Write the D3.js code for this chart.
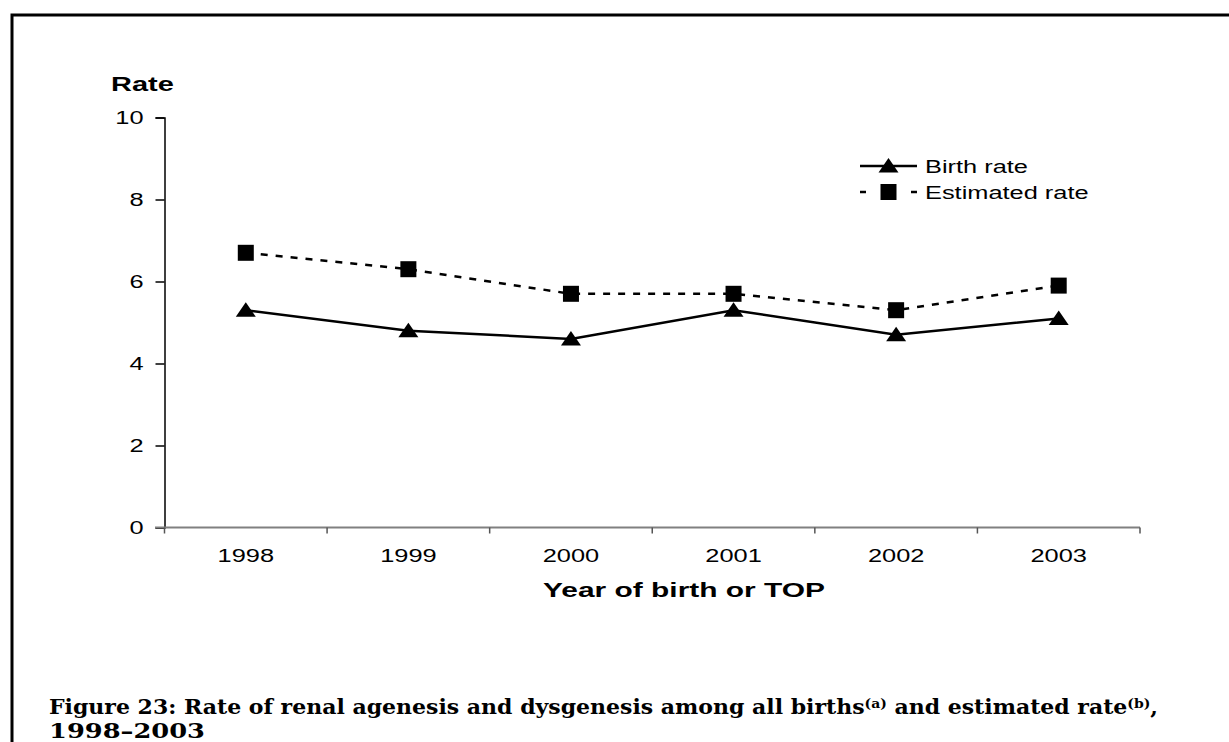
<!DOCTYPE html>
<html>
<head>
<meta charset="utf-8">
<script src="https://cdn.jsdelivr.net/npm/d3@7"></script>
<style>
  body { margin: 0; background: #fff; }
  svg { display: block; }
</style>
</head>
<body>
<div id="chart"></div>
<script>
// data
var years = ["1998", "1999", "2000", "2001", "2002", "2003"];
var birthRate = [5.3, 4.8, 4.6, 5.3, 4.7, 5.1];
var estimatedRate = [6.7, 6.3, 5.7, 5.7, 5.3, 5.9];
var yTicks = [0, 2, 4, 6, 8, 10];
var seriesNames = ["Birth rate", "Estimated rate"];

var W = 1229, H = 742;
var stretch = 1.45;   // the original chart text is wider than normal Arial

var svg = d3.select("#chart").append("svg")
  .attr("width", W)
  .attr("height", H);

// frame round the figure (left and top only are visible)
svg.append("path")
  .attr("d", "M12,742 L12,15 L1229,15")
  .attr("fill", "none")
  .attr("stroke", "#000")
  .attr("stroke-width", 3);

var plotLeft = 164.5, plotRight = 1140, plotTop = 117.5, plotBottom = 527.5;

var x = d3.scaleBand()
  .domain(years)
  .range([plotLeft, plotRight])
  .padding(0);

var y = d3.scaleLinear()
  .domain([0, 10])
  .range([plotBottom, plotTop]);

// widen a text node by the stretch factor
function widen(sel) {
  sel.each(function() {
    var len = this.getComputedTextLength();
    d3.select(this)
      .attr("textLength", len * stretch)
      .attr("lengthAdjust", "spacingAndGlyphs");
  });
}

// Y axis
var yAxis = svg.append("g")
  .attr("transform", "translate(" + plotLeft + ",0)")
  .call(d3.axisLeft(y).tickValues(yTicks).tickSize(9).tickPadding(12).tickFormat(d3.format("d")));
yAxis.select(".domain").attr("stroke", "#000").attr("stroke-width", 1.5);
yAxis.selectAll(".tick line").attr("stroke", "#000").attr("stroke-width", 1.5);
yAxis.selectAll("text")
  .attr("font-family", "Liberation Sans, Arial, sans-serif")
  .attr("font-size", 17.5)
  .attr("fill", "#000")
  .call(widen);

// X axis: gray line, ticks on band edges, labels at centres
var xAxis = svg.append("g")
  .attr("transform", "translate(0," + plotBottom + ")")
  .call(d3.axisBottom(x).tickSize(0).tickPadding(22));
xAxis.select(".domain").remove();
xAxis.selectAll("text")
  .attr("font-family", "Liberation Sans, Arial, sans-serif")
  .attr("font-size", 17.5)
  .attr("fill", "#000")
  .call(widen);

var edges = years.map(function(d) { return x(d); }).concat([plotRight]);
xAxis.append("line")
  .attr("x1", plotLeft - 9.5)
  .attr("x2", plotRight)
  .attr("y1", 0).attr("y2", 0)
  .attr("stroke", "#808080")
  .attr("stroke-width", 2);
xAxis.selectAll(".edge")
  .data(edges)
  .enter().append("line")
  .attr("class", "edge")
  .attr("x1", function(d) { return d; })
  .attr("x2", function(d) { return d; })
  .attr("y1", 0).attr("y2", 6)
  .attr("stroke", "#555")
  .attr("stroke-width", 1.5);

// axis titles
svg.append("text")
  .attr("x", 111)
  .attr("y", 91)
  .attr("font-family", "Liberation Sans, Arial, sans-serif")
  .attr("font-weight", "bold")
  .attr("font-size", 20)
  .text("Rate")
  .call(widen);

svg.append("text")
  .attr("x", 684)
  .attr("y", 597)
  .attr("text-anchor", "middle")
  .attr("font-family", "Liberation Sans, Arial, sans-serif")
  .attr("font-weight", "bold")
  .attr("font-size", 20)
  .attr("textLength", 282)
  .attr("lengthAdjust", "spacingAndGlyphs")
  .text("Year of birth or TOP");

var cx = function(d, i) { return x(years[i]) + x.bandwidth() / 2; };

function trianglePath(px, py) {
  return "M" + px + "," + (py - 8) + " L" + (px + 10) + "," + (py + 6.5) + " L" + (px - 10) + "," + (py + 6.5) + " Z";
}

// estimated rate: dashed line with squares
svg.append("path")
  .datum(estimatedRate)
  .attr("fill", "none")
  .attr("stroke", "#000")
  .attr("stroke-width", 2.5)
  .attr("stroke-dasharray", "7,8")
  .attr("d", d3.line().x(cx).y(function(d) { return y(d); }));

svg.selectAll(".sq")
  .data(estimatedRate)
  .enter().append("rect")
  .attr("class", "sq")
  .attr("x", function(d, i) { return cx(d, i) - 8; })
  .attr("y", function(d) { return y(d) - 8; })
  .attr("width", 16)
  .attr("height", 16)
  .attr("fill", "#000");

// birth rate: solid line with triangles
svg.append("path")
  .datum(birthRate)
  .attr("fill", "none")
  .attr("stroke", "#000")
  .attr("stroke-width", 2.5)
  .attr("d", d3.line().x(cx).y(function(d) { return y(d); }));

svg.selectAll(".tri")
  .data(birthRate)
  .enter().append("path")
  .attr("class", "tri")
  .attr("d", function(d, i) { return trianglePath(cx(d, i), y(d)); })
  .attr("fill", "#000");

// legend
var lg = svg.append("g").attr("transform", "translate(860,166)");
lg.append("line")
  .attr("x1", 0).attr("x2", 57).attr("y1", 0).attr("y2", 0)
  .attr("stroke", "#000").attr("stroke-width", 2.5);
lg.append("path").attr("d", trianglePath(28.5, 0)).attr("fill", "#000");
lg.append("line")
  .attr("x1", 0).attr("x2", 57).attr("y1", 26).attr("y2", 26)
  .attr("stroke", "#000").attr("stroke-width", 2.5)
  .attr("stroke-dasharray", "6,15,15,15");
lg.append("rect")
  .attr("x", 20.5).attr("y", 18).attr("width", 16).attr("height", 16)
  .attr("fill", "#000");
lg.selectAll(".lt")
  .data(seriesNames)
  .enter().append("text")
  .attr("class", "lt")
  .attr("x", 65)
  .attr("y", function(d, i) { return 6.5 + i * 26.5; })
  .attr("font-family", "Liberation Sans, Arial, sans-serif")
  .attr("font-size", 17.5)
  .text(function(d) { return d; })
  .call(widen);

// caption
var capFont = "'Palatino Linotype', 'Book Antiqua', Palatino, 'DejaVu Serif', serif";
var cap = svg.append("text")
  .attr("x", 49)
  .attr("y", 714)
  .attr("font-family", capFont)
  .attr("font-weight", "bold")
  .attr("font-size", 20.5)
  .attr("textLength", 1109)
  .attr("lengthAdjust", "spacingAndGlyphs");
cap.append("tspan").text("Figure 23: Rate of renal agenesis and dysgenesis among all births");
cap.append("tspan").attr("font-size", 13).attr("dy", -6).text("(a)");
cap.append("tspan").attr("dy", 6).text(" and estimated rate");
cap.append("tspan").attr("font-size", 13).attr("dy", -6).text("(b)");
cap.append("tspan").attr("dy", 6).text(",");

svg.append("text")
  .attr("x", 49)
  .attr("y", 738)
  .attr("font-family", capFont)
  .attr("font-weight", "bold")
  .attr("font-size", 20.5)
  .attr("textLength", 156)
  .attr("lengthAdjust", "spacingAndGlyphs")
  .text("1998–2003");
</script>
</body>
</html>
